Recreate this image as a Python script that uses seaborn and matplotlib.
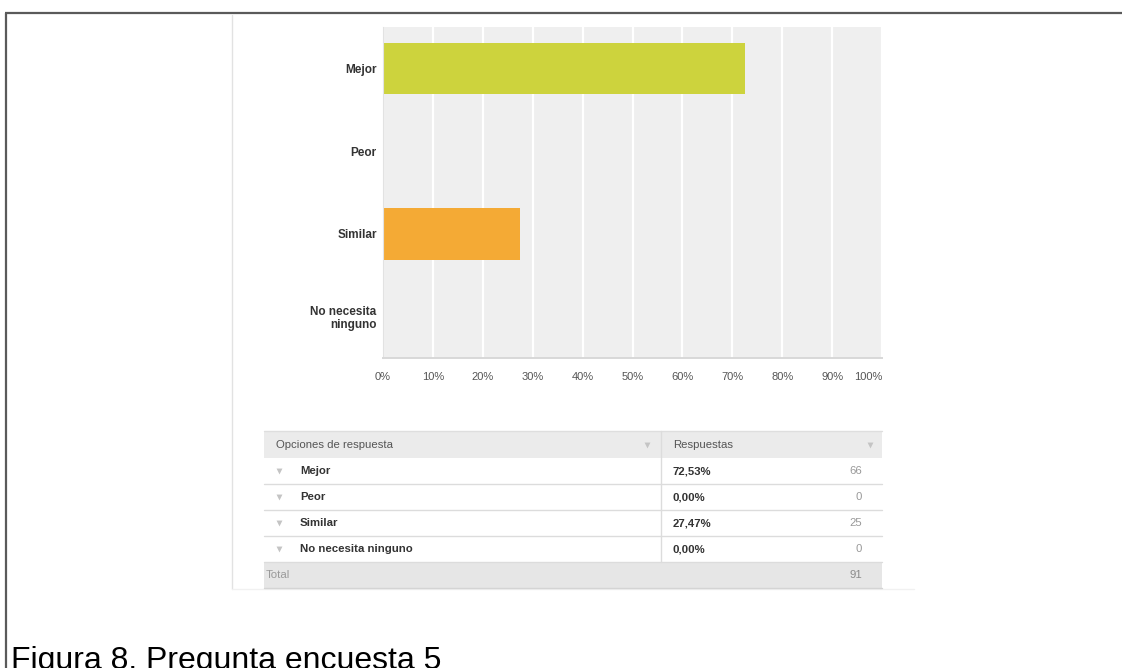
import matplotlib
matplotlib.use("Agg")
import matplotlib.pyplot as plt
from matplotlib.patches import Rectangle
import numpy as np
import pandas as pd
import seaborn as sns

# Survey answers and their shares
categories = ["Mejor", "Peor", "Similar", "No necesita ninguno"]
axis_labels = ["Mejor", "Peor", "Similar", "No necesita\nninguno"]
percentages = [72.53, 0.00, 27.47, 0.00]
counts = [66, 0, 25, 0]
bar_colors = ["#cdd33d", "#5bc4bf", "#f4aa35", "#8e7cc3"]
x_ticks = [0, 10, 20, 30, 40, 50, 60, 70, 80, 90, 100]
x_tick_labels = [f"{t}%" for t in x_ticks]
caption = "Figura 8. Pregunta encuesta 5"

sns.set_style("white")
plt.rcParams["font.family"] = ["Liberation Sans", "DejaVu Sans"]

W, H = 1122, 668
fig = plt.figure(figsize=(W / 100, H / 100), dpi=100)
fig.patch.set_facecolor("white")

# ---- page decorations and answer table, drawn in pixel coordinates ----
page = fig.add_axes([0, 0, 1, 1])
page.set_xlim(0, W)
page.set_ylim(H, 0)
page.axis("off")
page.patch.set_alpha(0)
page.set_zorder(-1)

# frame of the document page
page.plot([5, W], [13, 13], color="#5a5a5a", lw=1.6, solid_capstyle="butt")
page.plot([6, 6], [13, H], color="#5a5a5a", lw=1.6, solid_capstyle="butt")
# edge of the embedded survey panel
page.plot([232, 232], [15, 589], color="#e2e2e2", lw=1.0)
page.plot([232, 914], [589, 589], color="#f1f1f1", lw=1.0)

# answer table
t_left, t_right, t_div = 264, 882, 661.5
head_top, head_h, row_h = 431, 27, 26
small = 8.2
arrow_c = "#c4c4c4"

page.add_patch(Rectangle((t_left, head_top), t_right - t_left, head_h,
                         facecolor="#ebebeb", edgecolor="none"))
page.plot([t_left, t_right], [head_top, head_top], color="#dedede", lw=1)
page.text(276, head_top + head_h / 2, "Opciones de respuesta", fontsize=small,
          color="#555555", va="center", ha="left")
page.text(673, head_top + head_h / 2, "Respuestas", fontsize=small,
          color="#555555", va="center", ha="left")
page.scatter([647, 870], [head_top + head_h / 2] * 2, marker="v", s=18,
             color=arrow_c, linewidths=0)

row_top = head_top + head_h
for i, (name, pct, cnt) in enumerate(zip(categories, percentages, counts)):
    y0 = row_top + i * row_h
    yc = y0 + row_h / 2
    page.plot([t_left, t_right], [y0 + row_h, y0 + row_h], color="#dcdcdc", lw=1)
    page.scatter([279], [yc], marker="v", s=18, color=arrow_c, linewidths=0)
    page.text(300, yc, name, fontsize=small, fontweight="bold",
              color="#333333", va="center", ha="left")
    page.text(673, yc, f"{pct:.2f}%".replace(".", ","), fontsize=small,
              fontweight="bold", color="#333333", va="center", ha="left")
    page.text(862, yc, f"{cnt}", fontsize=small, color="#999999",
              va="center", ha="right")

total_top = row_top + len(categories) * row_h
page.plot([t_div, t_div], [head_top, total_top], color="#dcdcdc", lw=1)
page.add_patch(Rectangle((t_left, total_top), t_right - t_left, row_h,
                         facecolor="#e6e6e6", edgecolor="none"))
page.plot([t_left, t_right], [total_top + row_h, total_top + row_h],
          color="#d4d4d4", lw=1)
page.text(266, total_top + row_h / 2, "Total", fontsize=small, color="#9a9a9a",
          va="center", ha="left")
page.text(862, total_top + row_h / 2, f"{sum(counts)}", fontsize=small,
          color="#8a8a8a", va="center", ha="right")

# figure caption
page.text(11, 669, caption, fontsize=23, color="black", va="baseline", ha="left")

# ---- horizontal bar chart ----
pl, pr, pt, pb = 383, 882, 27, 358
ax = fig.add_axes([pl / W, 1 - pb / H, (pr - pl) / W, (pb - pt) / H])
df = pd.DataFrame({"opcion": axis_labels, "pct": percentages})
sns.barplot(data=df, y="opcion", x="pct", hue="opcion",
            palette=dict(zip(axis_labels, bar_colors)), orient="h",
            width=0.62, saturation=1, legend=False, linewidth=0, ax=ax)
ax.set_facecolor("#efefef")
ax.set_xlim(0, 100)
ax.set_xticks(x_ticks)
ax.set_xticklabels(x_tick_labels)
ax.grid(axis="x", color="white", lw=1.6)
ax.grid(axis="y", visible=False)
ax.set_axisbelow(True)
for side in ["top", "right"]:
    ax.spines[side].set_visible(False)
ax.spines["left"].set_color("#e2e2e2")
ax.spines["bottom"].set_color("#d8d8d8")
ax.spines["bottom"].set_linewidth(1.4)
ax.set_xlabel("")
ax.set_ylabel("")
ax.tick_params(axis="x", length=0, pad=10, labelsize=8, labelcolor="#555555")
ax.tick_params(axis="y", length=0, pad=4.5, labelsize=8.5, labelcolor="#333333")
for lbl in ax.get_yticklabels():
    lbl.set_fontweight("bold")
    lbl.set_linespacing(1.05)
ax.get_xticklabels()[-1].set_horizontalalignment("right")

fig.savefig("out.png", dpi=100)
